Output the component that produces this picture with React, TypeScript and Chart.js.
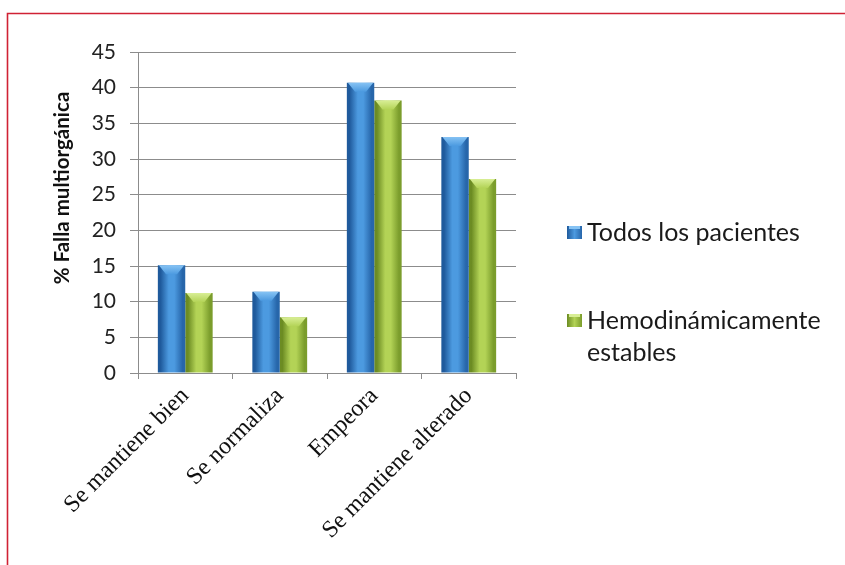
import React, { useEffect, useRef } from "react";
import { Chart, registerables } from "chart.js";

Chart.register(...registerables);

// ---- data ----
const categories: string[] = ["Se mantiene bien", "Se normaliza", "Empeora", "Se mantiene alterado"];
const todosValues: number[] = [15.1, 11.4, 40.7, 33.1];
const hemoValues: number[] = [11.2, 7.8, 38.2, 27.2];
const seriesNames: string[][] = [["Todos los pacientes"], ["Hemodinámicamente", "estables"]];
const yTicks: number[] = [0, 5, 10, 15, 20, 25, 30, 35, 40, 45];
const yTitle = "% Falla multiorgánica";

// ---- styles ----
const palettes = [
  { edgeL: "#1f5a9c", mid: "#4c9ae0", edgeR: "#2766aa", light: "#86c3f4" },
  { edgeL: "#6c8c23", mid: "#b3d356", edgeR: "#7b9d2c", light: "#d8ee95" },
];

const stylePlugin = {
  id: "styler",
  beforeDraw(chart: any) {
    const { ctx, width, height } = chart;
    ctx.save();
    ctx.fillStyle = "#ffffff";
    ctx.fillRect(0, 0, width, height);
    ctx.restore();
  },
  beforeDatasetsDraw(chart: any) {
    const ctx = chart.ctx;
    chart.data.datasets.forEach((_ds: any, di: number) => {
      const meta = chart.getDatasetMeta(di);
      const pal = palettes[di];
      meta.data.forEach((el: any) => {
        const x = el.x;
        const w = el.width;
        const g = ctx.createLinearGradient(x - w / 2, 0, x + w / 2, 0);
        g.addColorStop(0, pal.edgeL);
        g.addColorStop(0.1, pal.edgeL);
        g.addColorStop(0.4, pal.mid);
        g.addColorStop(0.6, pal.mid);
        g.addColorStop(0.9, pal.edgeR);
        g.addColorStop(1, pal.edgeR);
        el.options = { ...el.options, backgroundColor: g };
      });
    });
  },
  afterDatasetsDraw(chart: any) {
    const ctx = chart.ctx;
    const area = chart.chartArea;
    // bevel tops
    chart.data.datasets.forEach((_ds: any, di: number) => {
      const meta = chart.getDatasetMeta(di);
      const pal = palettes[di];
      meta.data.forEach((el: any) => {
        const x0 = el.x - el.width / 2;
        const x1 = el.x + el.width / 2;
        const y = el.y;
        const h = 9;
        const inset = el.width * 0.3;
        const g = ctx.createLinearGradient(0, y, 0, y + h);
        g.addColorStop(0, pal.light);
        g.addColorStop(1, pal.mid);
        ctx.save();
        ctx.fillStyle = g;
        ctx.beginPath();
        ctx.moveTo(x0 + 1, y);
        ctx.lineTo(x1 - 1, y);
        ctx.lineTo(x1 - inset, y + h);
        ctx.lineTo(x0 + inset, y + h);
        ctx.closePath();
        ctx.fill();
        ctx.restore();
      });
    });

    // y title
    ctx.save();
    ctx.translate(62, 188);
    ctx.rotate(-Math.PI / 2);
    ctx.font = "bold 20.5px Lato";
    ctx.fillStyle = "#111111";
    ctx.textAlign = "center";
    ctx.textBaseline = "middle";
    ctx.fillText(yTitle, 0, 0);
    ctx.restore();

    // legend
    const lx = area.right + 51;
    const itemBaselines = [area.top + 189, area.top + 277];
    const lineGap = 32;
    ctx.save();
    ctx.font = "25px Lato";
    ctx.textBaseline = "alphabetic";
    ctx.textAlign = "left";
    seriesNames.forEach((lines, i) => {
      const pal = palettes[i];
      const by = itemBaselines[i];
      const g = ctx.createLinearGradient(lx, 0, lx + 15, 0);
      g.addColorStop(0, pal.edgeL);
      g.addColorStop(0.5, pal.mid);
      g.addColorStop(1, pal.edgeR);
      ctx.fillStyle = g;
      ctx.fillRect(lx, by - 15, 15, 13);
      ctx.fillStyle = pal.light;
      ctx.fillRect(lx + 2, by - 15, 11, 3);
      ctx.fillStyle = "#1a1a1a";
      lines.forEach((t, li) => {
        ctx.fillText(t, lx + 20, by + li * lineGap);
      });
    });
    ctx.restore();

    // frame
    ctx.save();
    ctx.strokeStyle = "#d02234";
    ctx.lineWidth = 1.6;
    ctx.beginPath();
    ctx.moveTo(7.5, chart.height);
    ctx.lineTo(7.5, 13.5);
    ctx.lineTo(chart.width, 13.5);
    ctx.stroke();
    ctx.restore();
  },
};

export default function App() {
  const canvasRef = useRef<HTMLCanvasElement | null>(null);

  useEffect(() => {
    const canvas = canvasRef.current;
    if (!canvas) return;
    const chart = new Chart(canvas, {
      type: "bar",
      data: {
        labels: categories,
        datasets: [
          {
            label: seriesNames[0].join(" "),
            data: todosValues,
            backgroundColor: palettes[0].mid,
            borderWidth: 0,
            barPercentage: 1,
            categoryPercentage: 0.58,
          },
          {
            label: seriesNames[1].join(" "),
            data: hemoValues,
            backgroundColor: palettes[1].mid,
            borderWidth: 0,
            barPercentage: 1,
            categoryPercentage: 0.58,
          },
        ],
      },
      options: {
        responsive: false,
        animation: false,
        devicePixelRatio: 1,
        layout: { padding: { left: 0, top: 52, right: 329, bottom: 0 } },
        plugins: {
          legend: { display: false },
          tooltip: { enabled: false },
        },
        scales: {
          x: {
            offset: true,
            grid: {
              display: true,
              offset: true,
              drawOnChartArea: false,
              drawTicks: true,
              tickLength: 6,
              color: "#8c8c8c",
              lineWidth: 1,
            },
            border: { display: true, color: "#8c8c8c", width: 1 },
            ticks: {
              minRotation: 45,
              maxRotation: 45,
              autoSkip: false,
              padding: 3,
              color: "#111111",
              font: { family: "Liberation Serif", size: 24 },
            },
            afterFit: (s: any) => {
              s.height = 192;
            },
          },
          y: {
            min: 0,
            max: 45,
            afterBuildTicks: (s: any) => {
              s.ticks = yTicks.map((v) => ({ value: v }));
            },
            grid: { color: "#8c8c8c", lineWidth: 1, tickLength: 8 },
            border: { display: true, color: "#8c8c8c", width: 1 },
            ticks: {
              padding: 14,
              color: "#222222",
              font: { family: "Lato", size: 21 },
            },
            afterFit: (s: any) => {
              s.width = 138;
            },
          },
        },
      },
      plugins: [stylePlugin],
    });
    return () => chart.destroy();
  }, []);

  return (
    <div style={{ position: "fixed", left: 0, top: 0, width: 845, height: 565, background: "#fff" }}>
      <canvas ref={canvasRef} width={845} height={565} style={{ display: "block", width: 845, height: 565 }} />
    </div>
  );
}
